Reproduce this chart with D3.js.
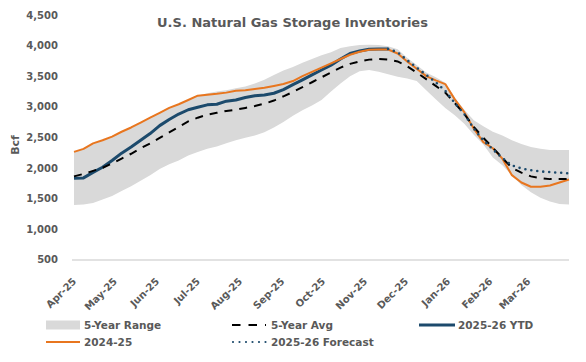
<!DOCTYPE html>
<meta charset="utf-8">

<!-- Load d3.js -->
<script src="https://d3js.org/d3.v7.min.js"></script>

<div id="my_dataviz"></div>

<style>
body { margin: 0; background: #fff; }
text { font-family: "DejaVu Sans", sans-serif; font-weight: bold; fill: #595959; }
</style>

<script>

// weekly dates, Apr-25 to Mar-26
var weeks = [
  "2025-04-01","2025-04-08","2025-04-15","2025-04-22","2025-04-29",
  "2025-05-06","2025-05-13","2025-05-20","2025-05-27",
  "2025-06-03","2025-06-10","2025-06-17","2025-06-24",
  "2025-07-01","2025-07-08","2025-07-15","2025-07-22","2025-07-29",
  "2025-08-05","2025-08-12","2025-08-19","2025-08-26",
  "2025-09-02","2025-09-09","2025-09-16","2025-09-23","2025-09-30",
  "2025-10-07","2025-10-14","2025-10-21","2025-10-28",
  "2025-11-04","2025-11-11","2025-11-18","2025-11-25",
  "2025-12-02","2025-12-09","2025-12-16","2025-12-23","2025-12-30",
  "2026-01-06","2026-01-13","2026-01-20","2026-01-27",
  "2026-02-03","2026-02-10","2026-02-17","2026-02-24",
  "2026-03-03","2026-03-10","2026-03-17","2026-03-24","2026-03-31"
];

// 5-year range (min / max), Bcf
var rangeLow = [1390,1400,1425,1480,1540,1620,1700,1790,1880,1980,2060,2120,2200,2260,2310,2350,2400,2450,2490,2530,
  2580,2660,2750,2850,2940,3020,3110,3250,3380,3500,3580,3600,3570,3530,3490,3460,3420,3270,3120,2980,
  2860,2720,2540,2380,2170,2040,1880,1720,1600,1510,1450,1410,1400];
var rangeHigh = [2260,2310,2400,2450,2510,2590,2660,2740,2820,2900,2980,3040,3110,3180,3220,3250,3270,3300,3330,3380,
  3440,3520,3590,3650,3720,3780,3840,3890,3960,3990,4010,4015,4010,3990,3940,3800,3680,3560,3480,3390,
  3150,2950,2780,2680,2590,2530,2450,2390,2340,2310,2290,2290,2290];

// 5-year average
var avg5 = [1860,1900,1950,2000,2070,2150,2230,2320,2400,2490,2580,2670,2760,2820,2870,2900,2930,2950,2980,3010,
  3050,3100,3170,3240,3320,3400,3480,3560,3640,3700,3740,3770,3780,3770,3740,3660,3560,3450,3340,3230,
  3060,2880,2670,2490,2330,2160,2000,1920,1860,1830,1815,1815,1820];

// 2024-25 season
var s2425 = [2260,2310,2400,2450,2510,2590,2660,2740,2820,2900,2980,3040,3110,3180,3195,3210,3230,3260,3270,3290,
  3310,3340,3370,3420,3500,3570,3640,3710,3780,3850,3900,3930,3935,3935,3870,3740,3620,3500,3430,3370,
  3120,2910,2640,2420,2320,2150,1880,1760,1690,1690,1710,1760,1810];

// 2025-26 year to date (from first week)
var ytd = [1830,1835,1925,2010,2120,2240,2340,2450,2560,2690,2790,2880,2950,2990,3030,3040,3090,3110,3150,3180,
  3190,3220,3280,3360,3440,3520,3600,3680,3780,3870,3910,3940,3945,3945];

// 2025-26 forecast (starts at last YTD week)
var forecastStart = 33;
var forecast = [3945,3890,3760,3640,3520,3400,3260,3060,2880,2640,2450,2300,2160,2040,1990,1960,1940,1930,1920,1910];

var yTicks = [500,1000,1500,2000,2500,3000,3500,4000,4500];
var monthLabels = ["Apr-25","May-25","Jun-25","Jul-25","Aug-25","Sep-25","Oct-25","Nov-25","Dec-25","Jan-26","Feb-26","Mar-26"];

var W = 586, H = 362;
var margin = {top: 15, right: 17, bottom: 102, left: 74};

var svg = d3.select("#my_dataviz")
  .append("svg")
    .attr("width", W)
    .attr("height", H);

var parse = d3.timeParse("%Y-%m-%d");
var dates = weeks.map(parse);

var x = d3.scaleTime()
  .domain([dates[0], dates[dates.length - 1]])
  .range([margin.left, W - margin.right]);

var y = d3.scaleLinear()
  .domain([500, 4500])
  .range([259.5, 15]);

var rows = dates.map(function(d, i) {
  return {
    date: d,
    lo: rangeLow[i], hi: rangeHigh[i],
    avg: avg5[i], prev: s2425[i],
    ytd: i < ytd.length ? ytd[i] : null,
    fc: i >= forecastStart ? forecast[i - forecastStart] : null
  };
});

// 5-year range band
svg.append("path")
  .datum(rows)
  .attr("fill", "#d9d9d9")
  .attr("d", d3.area()
    .x(function(d) { return x(d.date); })
    .y0(function(d) { return y(d.lo); })
    .y1(function(d) { return y(d.hi); }));

// bottom axis line
svg.append("line")
  .attr("x1", 72).attr("x2", W - margin.right)
  .attr("y1", 260).attr("y2", 260)
  .attr("stroke", "#d9d9d9").attr("stroke-width", 1.3);

function lineFor(key) {
  return d3.line()
    .defined(function(d) { return d[key] != null; })
    .x(function(d) { return x(d.date); })
    .y(function(d) { return y(d[key]); });
}

var blue = "#1c4a6c", orange = "#e8761f";

svg.append("path").datum(rows)
  .attr("fill", "none").attr("stroke", blue).attr("stroke-width", 3)
  .attr("stroke-linejoin", "round")
  .attr("d", lineFor("ytd"));

svg.append("path").datum(rows)
  .attr("fill", "none").attr("stroke", orange).attr("stroke-width", 2)
  .attr("stroke-linejoin", "round")
  .attr("d", lineFor("prev"));

svg.append("path").datum(rows)
  .attr("fill", "none").attr("stroke", "#000").attr("stroke-width", 2)
  .attr("stroke-dasharray", "8,7")
  .attr("d", lineFor("avg"));

svg.append("path").datum(rows)
  .attr("fill", "none").attr("stroke", blue).attr("stroke-width", 2.6)
  .attr("stroke-linecap", "round").attr("stroke-dasharray", "0,6")
  .attr("d", lineFor("fc"));

// y axis labels
var yAxis = svg.append("g")
  .attr("transform", "translate(" + margin.left + ",0)")
  .call(d3.axisLeft(y).tickValues(yTicks).tickFormat(d3.format(",")).tickSize(0).tickPadding(16));
yAxis.select(".domain").remove();
yAxis.selectAll("text").style("font-size", "10px").attr("fill", "#595959").style("font-family", "DejaVu Sans");

svg.append("text")
  .attr("transform", "translate(19,145) rotate(-90)")
  .attr("text-anchor", "middle")
  .style("font-size", "11px")
  .text("Bcf");

// x month labels
var months = d3.timeMonth.range(dates[0], dates[dates.length - 1]);
svg.append("g").selectAll("text")
  .data(months)
  .enter()
  .append("text")
    .attr("transform", function(d) { return "translate(" + (x(d) + 3) + ",282) rotate(-45)"; })
    .attr("text-anchor", "end")
    .style("font-size", "10px")
    .text(function(d, i) { return monthLabels[i]; });

// title
svg.append("text")
  .attr("x", 292.5).attr("y", 27.3)
  .attr("text-anchor", "middle")
  .style("font-size", "13px")
  .text("U.S. Natural Gas Storage Inventories");

// legend
var lg = svg.append("g").style("font-size", "10.5px");
lg.append("rect").attr("x", 46).attr("y", 320.5).attr("width", 34).attr("height", 9).attr("fill", "#d9d9d9");
lg.append("text").attr("x", 84).attr("y", 329).text("5-Year Range");

lg.append("line").attr("x1", 232).attr("x2", 266).attr("y1", 325).attr("y2", 325)
  .attr("stroke", "#000").attr("stroke-width", 2).attr("stroke-dasharray", "8.5,8");
lg.append("text").attr("x", 271).attr("y", 329).text("5-Year Avg");

lg.append("line").attr("x1", 419).attr("x2", 455).attr("y1", 325).attr("y2", 325)
  .attr("stroke", blue).attr("stroke-width", 3);
lg.append("text").attr("x", 458).attr("y", 329).text("2025-26 YTD");

lg.append("line").attr("x1", 46).attr("x2", 80).attr("y1", 342).attr("y2", 342)
  .attr("stroke", orange).attr("stroke-width", 2);
lg.append("text").attr("x", 84).attr("y", 346).text("2024-25");

lg.append("line").attr("x1", 233).attr("x2", 266).attr("y1", 342).attr("y2", 342)
  .attr("stroke", blue).attr("stroke-width", 2.2).attr("stroke-linecap", "round").attr("stroke-dasharray", "0,6.5");
lg.append("text").attr("x", 271).attr("y", 346).text("2025-26 Forecast");

</script>
